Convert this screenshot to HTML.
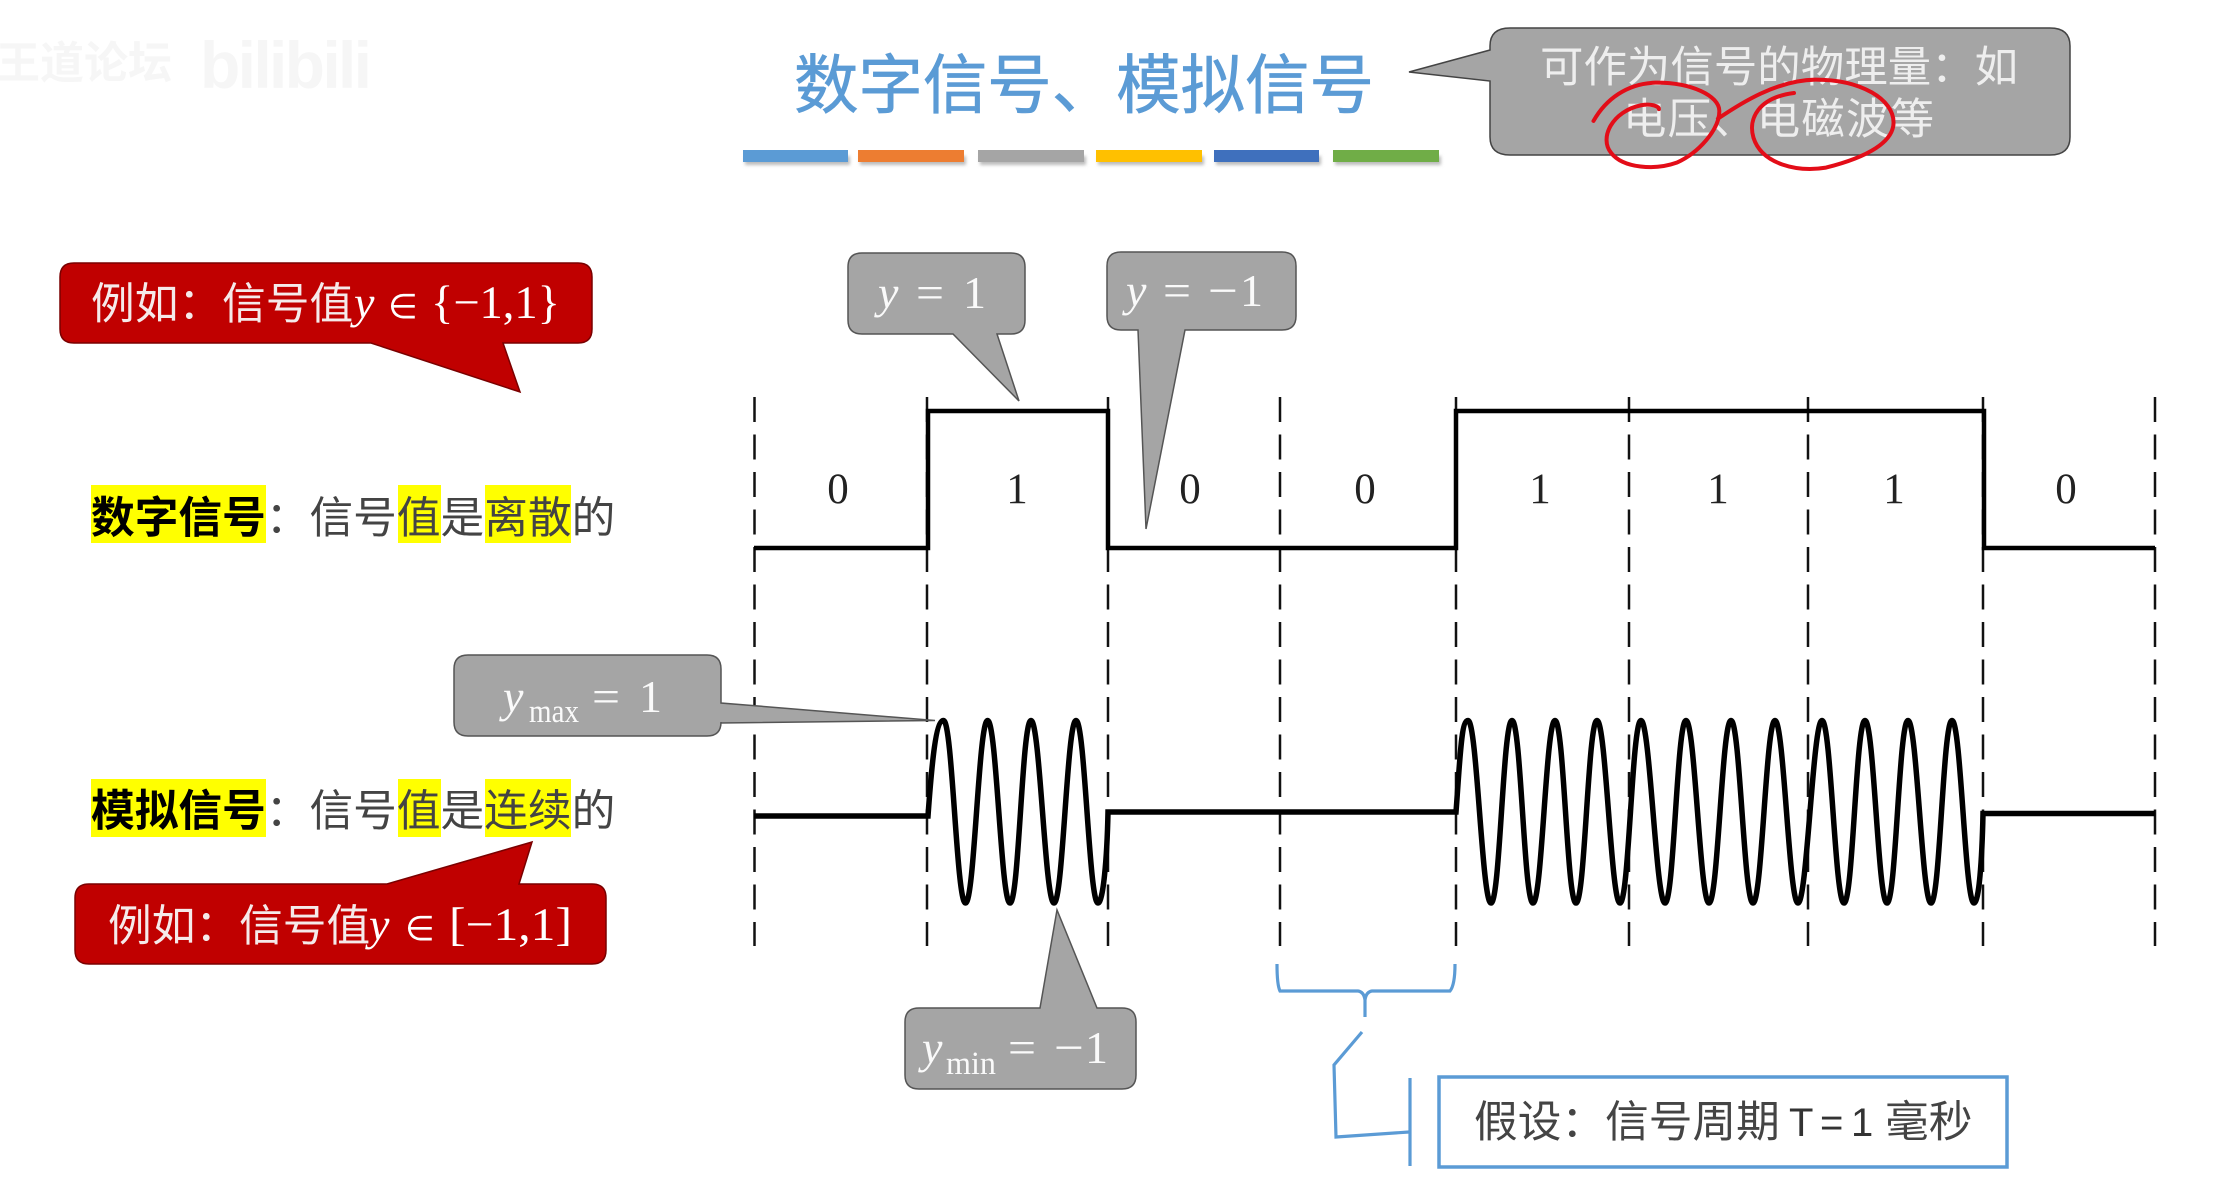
<!DOCTYPE html>
<html><head><meta charset="utf-8"><style>
html,body{margin:0;padding:0;background:#fff}
svg{display:block}
.c{font-family:"Liberation Sans","Noto Sans CJK SC",sans-serif}
.m{font-family:"Liberation Serif","DejaVu Serif",serif}
.d{font-family:"DejaVu Sans",sans-serif}
</style></head><body>
<svg width="2230" height="1201" viewBox="0 0 2230 1201" xmlns="http://www.w3.org/2000/svg">
<defs><filter id="b" x="-10%" y="-50%" width="120%" height="200%"><feGaussianBlur stdDeviation="1.6"/></filter></defs>
<rect width="2230" height="1201" fill="#fff"/>
<!-- watermark -->
<text class="c" x="-4" y="78" font-size="44" fill="#f6f6f6" font-weight="700">王道论坛</text>
<text class="c" x="200" y="88" font-size="66" fill="#f6f6f6" font-weight="700" textLength="172">bilibili</text>
<!-- title -->
<text class="c" x="794" y="108" font-size="64.5" fill="#5b9bd5" stroke="#5b9bd5" stroke-width=".7" textLength="580">数字信号、模拟信号</text>
<g>
<g fill="#bbb" filter="url(#b)"><rect x="745" y="156" width="105" height="9"/><rect x="860" y="156" width="106" height="9"/><rect x="980" y="156" width="106" height="9"/><rect x="1098" y="156" width="106" height="9"/><rect x="1216" y="156" width="105" height="9"/><rect x="1335" y="156" width="106" height="9"/></g>
<rect x="743" y="150" width="105" height="12" fill="#5b9bd5"/><rect x="858" y="150" width="106" height="12" fill="#ed7d31"/><rect x="978" y="150" width="106" height="12" fill="#a5a5a5"/><rect x="1096" y="150" width="106" height="12" fill="#ffc000"/><rect x="1214" y="150" width="105" height="12" fill="#3f70bd"/><rect x="1333" y="150" width="106" height="12" fill="#70ad47"/>
</g>
<!-- top callout -->
<path d="M1510,28 H2050 Q2070,28 2070,46 V137 Q2070,155 2050,155 H1510 Q1490,155 1490,137 V81 L1409,72 L1490,50 V46 Q1490,28 1510,28 Z" fill="#a5a5a5" stroke="#444" stroke-width="1.5"/>
<text class="c" x="1540" y="82" font-size="43.4" fill="#eee" textLength="478">可作为信号的物理量：如</text>
<text class="c" x="1623" y="134" font-size="43.4" fill="#eee" textLength="311">电压、电磁波等</text>
<g transform="translate(1115,0) scale(.711,.3827)" fill="none" stroke="#e30d18" stroke-width="4" stroke-linecap="round">
<path vector-effect="non-scaling-stroke" d="M673,316 C690,260 720,218 760,216 C810,215 850,250 850,290 C850,340 820,400 790,425 C760,445 715,440 698,400 C680,360 700,290 740,275 C755,270 765,278 765,285"/>
<path vector-effect="non-scaling-stroke" d="M848,310 C880,270 930,210 985,208 C1050,208 1095,260 1095,320 C1095,370 1060,410 1000,438 C960,450 910,430 898,360 C890,310 905,255 955,243"/>
</g>
<!-- red callouts -->
<path d="M74,263 H578 Q592,263 592,277 V329 Q592,343 578,343 H503 L520,392 L371,343 H74 Q60,343 60,329 V277 Q60,263 74,263 Z" fill="#c00000" stroke="#7a0000" stroke-width="1.5"/>
<text class="c" x="91" y="319" font-size="43.7" fill="#f5eaea">例如：信号值</text>
<text class="m" x="354" y="318" font-size="46" fill="#fff" font-style="italic">y</text>
<text class="d" x="388" y="318" font-size="34" fill="#fff">∈</text>
<text class="m" x="431" y="318" font-size="47" fill="#fff" textLength="129" lengthAdjust="spacingAndGlyphs">{−1,1}</text>

<path d="M89,884 H387 L532,842 L519,884 H592 Q606,884 606,898 V950 Q606,964 592,964 H89 Q75,964 75,950 V898 Q75,884 89,884 Z" fill="#c00000" stroke="#7a0000" stroke-width="1.5"/>
<text class="c" x="108" y="941" font-size="43.7" fill="#f5eaea">例如：信号值</text>
<text class="m" x="369" y="940" font-size="46" fill="#fff" font-style="italic">y</text>
<text class="d" x="405" y="940" font-size="34" fill="#fff">∈</text>
<text class="m" x="449" y="940" font-size="47" fill="#fff" textLength="123" lengthAdjust="spacingAndGlyphs">[−1,1]</text>

<!-- left labels -->
<g fill="#ffff00">
<rect x="91" y="485" width="175" height="58"/><rect x="398" y="485" width="43" height="58"/><rect x="485" y="485" width="86" height="58"/>
<rect x="91" y="779" width="175" height="58"/><rect x="398" y="779" width="43" height="58"/><rect x="485" y="779" width="86" height="58"/>
</g>
<text class="c" x="91" y="533" font-size="43.7" fill="#444"><tspan font-weight="700" fill="#000">数字信号</tspan>：信号值是离散的</text>
<text class="c" x="91" y="826" font-size="43.7" fill="#444"><tspan font-weight="700" fill="#000">模拟信号</tspan>：信号值是连续的</text>

<!-- dashed -->
<g stroke="#111" stroke-width="2.5" stroke-dasharray="25 12.5" fill="none">
<path d="M754.5,397V946M927,397V946M1108,397V946M1280,397V946M1456,397V946M1629,397V946M1808,397V946M1983,397V946M2155,397V946"/>
</g>
<!-- digital -->
<path d="M754,548 H928 V411 H1108 V548 H1456 V411 H1984 V548 H2155" fill="none" stroke="#000" stroke-width="4.5"/>
<g class="m" font-size="43" fill="#222" text-anchor="middle">
<text x="838" y="503">0</text><text x="1017" y="503">1</text><text x="1190" y="503">0</text><text x="1365" y="503">0</text><text x="1540" y="503">1</text><text x="1718" y="503">1</text><text x="1894" y="503">1</text><text x="2066" y="503">0</text>
</g>
<!-- analog -->
<path fill="none" stroke="#000" stroke-width="5.5" d="M754,816 L928,816 C932,760 936,720.5 943.5,720.5 C952.5,720.5 956.5,903 965.5,903 C974.5,903 978.6,720.5 987.6,720.5 C996.6,720.5 1001,903 1010,903 C1019,903 1022,720.5 1031,720.5 C1040,720.5 1045,903 1054,903 C1063,903 1067,720.5 1076,720.5 C1085,720.5 1089,903 1098,903 C1103,903 1107,860 1108,812 L1456,812 C1460,760 1461,720.5 1468,720.5 C1477,720.5 1482,903 1491,903 C1500,903 1503,720.5 1512,720.5 C1521,720.5 1524,903 1533,903 C1542,903 1546,720.5 1555,720.5 C1564,720.5 1567,903 1576,903 C1585,903 1588,720.5 1597,720.5 C1606,720.5 1611,903 1620,903 C1629,903 1632,720.5 1641,720.5 C1650,720.5 1656,903 1665,903 C1674,903 1677,720.5 1686,720.5 C1695,720.5 1700,903 1709,903 C1718,903 1722,720.5 1731,720.5 C1740,720.5 1744,903 1753,903 C1762,903 1766,720.5 1775,720.5 C1784,720.5 1789,903 1798,903 C1807,903 1813,720.5 1822,720.5 C1831,720.5 1835,903 1844,903 C1853,903 1856,720.5 1865,720.5 C1874,720.5 1878,903 1887,903 C1896,903 1899,720.5 1908,720.5 C1917,720.5 1922,903 1931,903 C1940,903 1943,720.5 1952,720.5 C1961,720.5 1965,903 1974,903 C1979,903 1982,860 1983,813.5 L2155,813.5"/>
<!-- gray callouts -->
<g fill="#a5a5a5" stroke="#555" stroke-width="1.5">
<path d="M862,253 H1011 Q1025,253 1025,267 V320 Q1025,334 1011,334 H997 L1019,401 L953,334 H862 Q848,334 848,320 V267 Q848,253 862,253 Z"/>
<path d="M1121,252 H1282 Q1296,252 1296,266 V316 Q1296,330 1282,330 H1185 L1146,529 L1138,330 H1121 Q1107,330 1107,316 V266 Q1107,252 1121,252 Z"/>
<path d="M468,655 H707 Q721,655 721,669 V703 L935,720.5 L721,723 V722 Q721,736 707,736 H468 Q454,736 454,722 V669 Q454,655 468,655 Z"/>
<path d="M919,1008 H1040 L1057,910 L1097,1008 H1122 Q1136,1008 1136,1022 V1075 Q1136,1089 1122,1089 H919 Q905,1089 905,1075 V1022 Q905,1008 919,1008 Z"/>
</g>
<g class="m" font-size="46" fill="#fafafa">
<text x="878" y="308" font-style="italic">y</text><text x="916" y="308" textLength="28" lengthAdjust="spacingAndGlyphs">=</text><text x="963" y="308">1</text>
<text x="1126" y="306" font-style="italic">y</text><text x="1163" y="306" textLength="28" lengthAdjust="spacingAndGlyphs">=</text><text x="1208" y="306" textLength="30" lengthAdjust="spacingAndGlyphs">−</text><text x="1240" y="306">1</text>
<text x="503" y="712" font-style="italic">y</text><text x="529" y="722" font-size="33" textLength="50" lengthAdjust="spacingAndGlyphs">max</text><text x="592" y="712" textLength="28" lengthAdjust="spacingAndGlyphs">=</text><text x="639" y="712">1</text>
<text x="922" y="1063" font-style="italic">y</text><text x="946" y="1074" font-size="33" textLength="50" lengthAdjust="spacingAndGlyphs">min</text><text x="1008" y="1063" textLength="28" lengthAdjust="spacingAndGlyphs">=</text><text x="1054" y="1063" textLength="30" lengthAdjust="spacingAndGlyphs">−</text><text x="1085" y="1063">1</text>
</g>
<!-- bracket and box -->
<g fill="none" stroke="#5b9bd5" stroke-width="3.2">
<path d="M1277,964 Q1277,985 1280,991 H1358 Q1364,992 1365,1000 V1017 M1365,1000 Q1366,992 1372,991 H1450 Q1455,985 1455,964"/>
<path d="M1362,1032 L1334,1065 L1336,1137 L1409,1132"/>
<path d="M1410,1078 V1166"/>
<rect x="1439" y="1077" width="568" height="90" stroke-width="3.5"/>
</g>
<text class="c" x="1474" y="1137" font-size="43.7" fill="#444">假设：信号周期</text>
<text class="c" x="1789" y="1136" font-size="40" fill="#333">T</text><text class="c" x="1820" y="1136" font-size="40" fill="#333">=</text><text class="c" x="1851" y="1136" font-size="40" fill="#333">1</text>
<text class="c" x="1885" y="1137" font-size="43.7" fill="#444">毫秒</text>
</svg>
</body></html>
